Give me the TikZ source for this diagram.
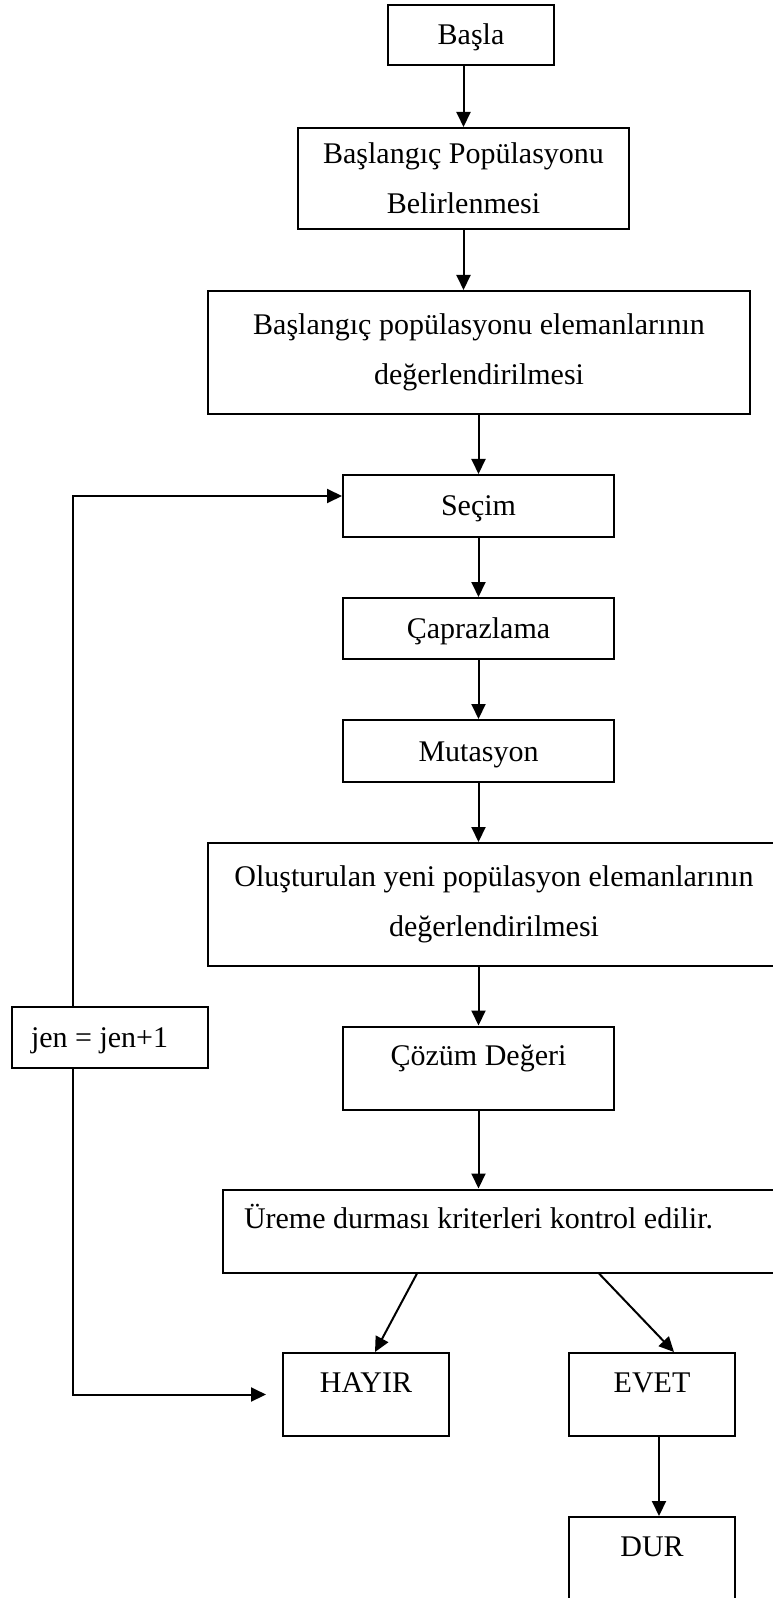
\documentclass[tikz,border=0pt]{standalone}
\usepackage{fontspec}
\setmainfont{Liberation Serif}
\usetikzlibrary{arrows.meta}

\begin{document}
\begin{tikzpicture}[x=0.5pt, y=-0.5pt,
  every node/.style={font=\fontsize{15}{25}\selectfont},
  box/.style={draw, line width=1pt, inner sep=0pt},
  short/.style={box, minimum height=31pt, text height=10pt, text depth=0pt},
  tall/.style={box, minimum width=83pt, text height=19.5pt, text depth=22pt},
  wide/.style={box, align=center},
  flow/.style={line width=1pt, -{Triangle[length=7.5pt, width=7pt]}}]
  \useasboundingbox (0, 0) rectangle (772, 1598);
  \path (471, 35) node[short, minimum width=83pt, minimum height=30pt] (basla) {Başla}
    (463.5, 178.5) node[wide, minimum width=165.5pt, minimum height=50.5pt] (bpop) {Başlangıç Popülasyonu\\Belirlenmesi}
    (479, 352.5) node[wide, minimum width=271pt, minimum height=61.5pt] (bdeg) {Başlangıç popülasyonu elemanlarının\\değerlendirilmesi}
    (478.5, 506) node[short, minimum width=135.5pt] (secim) {Seçim}
    (478.5, 628.5) node[short, minimum width=135.5pt, minimum height=30.5pt] (capraz) {Çaprazlama}
    (478.5, 751) node[short, minimum width=135.5pt] (mutasyon) {Mutasyon}
    (494, 904.5) node[wide, minimum width=286pt, minimum height=61.5pt] (olus) {Oluşturulan yeni popülasyon elemanlarının\\değerlendirilmesi}
    (110, 1037.5) node[short, minimum width=98pt, minimum height=30.5pt, inner xsep=9.5pt, text width=79pt, align=flush left] (jen) {jen = jen+1}
    (478.5, 1068) node[tall, minimum width=135.5pt] (cozum) {Çözüm Değeri}
    (511.5, 1231) node[tall, minimum width=288.5pt, inner xsep=10.5pt, text width=267.5pt, align=flush left] (ureme) {Üreme durması kriterleri kontrol edilir.}
    (366, 1394.5) node[tall] (hayir) {HAYIR}
    (652, 1394.5) node[tall] (evet) {EVET}
    (652, 1558.5) node[tall] (dur) {DUR};

  \draw[flow] (basla.south -| bpop.north) -- (bpop.north);
  \draw[flow] (bpop.south) -- (bpop.south |- bdeg.north);
  \draw[flow] (bdeg.south -| secim.north) -- (secim.north);
  \draw[flow] (secim) -- (capraz);
  \draw[flow] (capraz) -- (mutasyon);
  \draw[flow] (mutasyon.south) -- (mutasyon.south |- olus.north);
  \draw[flow] (olus.south -| cozum.north) -- (cozum.north);
  \draw[flow] (cozum.south) -- (cozum.south |- ureme.north);
  \draw[flow] ([xshift=97.5pt]ureme.south west) -- ([xshift=4.5pt]hayir.north);
  \draw[flow] ([xshift=188.5pt]ureme.south west) -- ([xshift=11pt]evet.north);
  \draw[flow] ([xshift=3.5pt]evet.south) -- ([xshift=3.5pt]dur.north);
  \draw[flow] ([xshift=-18.5pt]jen.north) |- ([yshift=5pt]secim.west);
  \draw[flow, shorten >=8pt] ([xshift=-18.5pt]jen.south) |- (hayir.west);
\end{tikzpicture}
\end{document}
